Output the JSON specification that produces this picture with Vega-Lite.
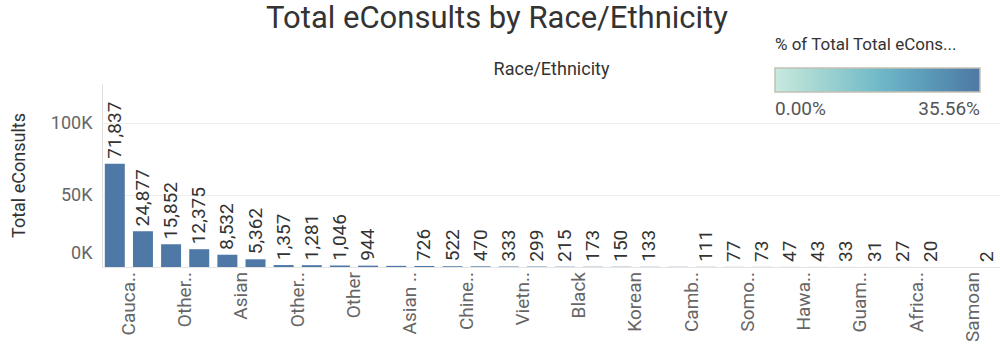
{
  "$schema": "https://vega.github.io/schema/vega-lite/v6.json",
  "width": 898,
  "height": 184,
  "autosize": {"type": "none"},
  "padding": {"left": 102, "top": 83, "right": 0, "bottom": 80},
  "background": "white",
  "config": {"font": "Roboto", "view": {"stroke": null}},
  "title": {
    "text": "Total eConsults by Race/Ethnicity",
    "fontSize": 31,
    "fontWeight": "normal",
    "color": "#333333",
    "anchor": "middle",
    "dx": -54,
    "dy": 2
  },
  "data": {
    "values": [
      {"race": "Caucasian", "eConsults": 71837, "pct": 0.3556, "label": "71,837", "short": "Cauca.."},
      {"race": "Hispanic/Latino", "eConsults": 24877, "pct": 0.1231, "label": "24,877"},
      {"race": "Other Race", "eConsults": 15852, "pct": 0.0785, "label": "15,852", "short": "Other.."},
      {"race": "Declined to State", "eConsults": 12375, "pct": 0.0613, "label": "12,375"},
      {"race": "Asian", "eConsults": 8532, "pct": 0.0422, "label": "8,532", "short": "Asian"},
      {"race": "Filipino", "eConsults": 5362, "pct": 0.0265, "label": "5,362"},
      {"race": "Other Pacific Islander", "eConsults": 1357, "pct": 0.0067, "label": "1,357", "short": "Other.."},
      {"race": "Unknown", "eConsults": 1281, "pct": 0.0063, "label": "1,281"},
      {"race": "Other", "eConsults": 1046, "pct": 0.0052, "label": "1,046", "short": "Other"},
      {"race": "Japanese", "eConsults": 944, "pct": 0.0047, "label": "944"},
      {"race": "Asian Indian", "eConsults": 800, "pct": 0.0040, "short": "Asian .."},
      {"race": "Native American", "eConsults": 726, "pct": 0.0036, "label": "726"},
      {"race": "Chinese", "eConsults": 522, "pct": 0.0026, "label": "522", "short": "Chine.."},
      {"race": "Mexican", "eConsults": 470, "pct": 0.0023, "label": "470"},
      {"race": "Vietnamese", "eConsults": 333, "pct": 0.0016, "label": "333", "short": "Vietn.."},
      {"race": "Middle Eastern", "eConsults": 299, "pct": 0.0015, "label": "299"},
      {"race": "Black", "eConsults": 215, "pct": 0.0011, "label": "215", "short": "Black"},
      {"race": "Laotian", "eConsults": 173, "pct": 0.0009, "label": "173"},
      {"race": "Korean", "eConsults": 150, "pct": 0.0007, "label": "150", "short": "Korean"},
      {"race": "Thai", "eConsults": 133, "pct": 0.0007, "label": "133"},
      {"race": "Cambodian", "eConsults": 120, "pct": 0.0006, "short": "Camb.."},
      {"race": "Hmong", "eConsults": 111, "pct": 0.0005, "label": "111"},
      {"race": "Somoan", "eConsults": 77, "pct": 0.0004, "label": "77", "short": "Somo.."},
      {"race": "Pakistani", "eConsults": 73, "pct": 0.0004, "label": "73"},
      {"race": "Hawaiian", "eConsults": 47, "pct": 0.0002, "label": "47", "short": "Hawa.."},
      {"race": "Indonesian", "eConsults": 43, "pct": 0.0002, "label": "43"},
      {"race": "Guamanian", "eConsults": 33, "pct": 0.0002, "label": "33", "short": "Guam.."},
      {"race": "Eskimo", "eConsults": 31, "pct": 0.0002, "label": "31"},
      {"race": "African", "eConsults": 27, "pct": 0.0001, "label": "27", "short": "Africa.."},
      {"race": "Fijian", "eConsults": 20, "pct": 0.0001, "label": "20"},
      {"race": "Samoan", "eConsults": 10, "pct": 0.0000, "short": "Samoan"},
      {"race": "Tongan", "eConsults": 2, "pct": 0.0000, "label": "2"}
    ]
  },
  "layer": [
    {
      "mark": {"type": "bar", "color": "#4e79a7"},
      "encoding": {
        "x": {
          "field": "race",
          "type": "nominal",
          "sort": null,
          "scale": {"paddingInner": 0.29, "paddingOuter": 0.1},
          "axis": {
            "orient": "bottom",
            "labels": false,
            "ticks": false,
            "domain": true,
            "domainColor": "#e4e4e4",
            "title": null
          }
        },
        "y": {
          "field": "eConsults",
          "type": "quantitative",
          "title": "Total eConsults",
          "scale": {"domain": [0, 128000], "nice": false},
          "axis": {
            "values": [0, 50000, 100000],
            "labelExpr": "datum.value / 1000 + 'K'",
            "ticks": false,
            "domainColor": "#e0e0e0",
            "gridColor": "#efefef",
            "labelFontSize": 18,
            "labelColor": "#666666",
            "labelPadding": 10,
            "labelFlush": true,
            "labelFlushOffset": -5,
            "titleFontSize": 18,
            "titleFontWeight": "normal",
            "titleColor": "#333333",
            "titlePadding": 22
          }
        }
      }
    },
    {
      "transform": [{"filter": "isValid(datum.label)"}],
      "mark": {"type": "text", "angle": 270, "align": "left", "baseline": "middle", "dx": 5, "fontSize": 19, "color": "#333333"},
      "encoding": {
        "x": {"field": "race", "type": "nominal", "sort": null, "axis": null},
        "y": {"field": "eConsults", "type": "quantitative", "title": "Total eConsults"},
        "text": {"field": "label"}
      }
    },
    {
      "transform": [{"filter": "isValid(datum.short)"}],
      "mark": {"type": "text", "angle": 270, "align": "right", "baseline": "middle", "dx": -5, "dy": 14, "fontSize": 19, "color": "#666666"},
      "encoding": {
        "x": {"field": "race", "type": "nominal", "sort": null, "axis": null},
        "y": {"datum": 0, "type": "quantitative", "title": "Total eConsults"},
        "text": {"field": "short"}
      }
    },
    {
      "mark": {"type": "point", "filled": true, "size": 0, "opacity": 1},
      "encoding": {
        "x": {
          "field": "race",
          "type": "nominal",
          "sort": null,
          "axis": {
            "orient": "top",
            "labels": false,
            "ticks": false,
            "domain": false,
            "grid": false,
            "title": "Race/Ethnicity",
            "titleFontSize": 18,
            "titleFontWeight": "normal",
            "titleColor": "#333333",
            "titlePadding": 5
          }
        },
        "y": {"field": "eConsults", "type": "quantitative", "title": "Total eConsults"},
        "color": {
          "field": "pct",
          "type": "quantitative",
          "scale": {"domain": [0, 0.3556], "range": ["#c8e9df", "#72bac9", "#4f78a2"]},
          "legend": {
            "orient": "none",
            "legendX": 673,
            "legendY": -46,
            "direction": "horizontal",
            "title": "% of Total Total eCons...",
            "titleLimit": 300,
            "titleFontSize": 17,
            "titleFontWeight": "normal",
            "titleColor": "#333333",
            "titlePadding": 14,
            "gradientLength": 205,
            "gradientThickness": 24,
            "gradientOpacity": 1,
            "gradientStrokeColor": "#c4c0b4",
            "gradientStrokeWidth": 1.5,
            "values": [0, 0.3556],
            "format": ".2%",
            "labelFontSize": 19,
            "labelColor": "#555555",
            "labelFlush": true,
            "labelOffset": 8
          }
        }
      }
    }
  ],
  "resolve": {"axis": {"x": "independent"}}
}
